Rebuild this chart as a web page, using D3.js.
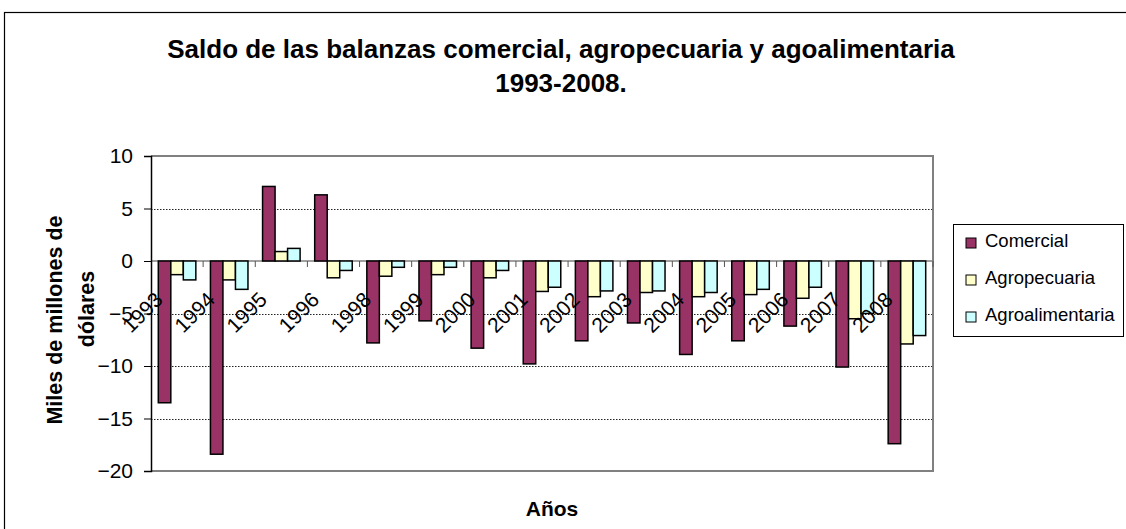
<!DOCTYPE html>
<html>
<head>
<meta charset="utf-8">
<script src="https://cdn.jsdelivr.net/npm/d3@7"></script>
<style>
  body { margin: 0; background: #fff; }
  svg { display: block; font-family: "Liberation Sans", Arial, sans-serif; }
</style>
</head>
<body>
<svg width="1126" height="529"></svg>
<script>
// data (miles de millones de dólares)
const years = ["1993", "1994", "1995", "1996", "1998", "1999", "2000", "2001",
  "2002", "2003", "2004", "2005", "2006", "2007", "2008"];
const comercial = [-13.5, -18.4, 7.1, 6.3, -7.8, -5.7, -8.3, -9.8, -7.6, -5.9, -8.9, -7.6, -6.2, -10.1, -17.4];
const agropecuaria = [-1.3, -1.8, 0.9, -1.6, -1.45, -1.3, -1.6, -2.9, -3.4, -3.0, -3.4, -3.2, -3.55, -5.5, -7.9];
const agroalimentaria = [-1.8, -2.7, 1.2, -0.9, -0.6, -0.6, -0.9, -2.5, -2.85, -2.85, -3.0, -2.7, -2.5, -5.0, -7.1];
const seriesNames = ["Comercial", "Agropecuaria", "Agroalimentaria"];
const colors = ["#993366", "#FFFFCC", "#CCFFFF"];
const yTicks = [10, 5, 0, -5, -10, -15, -20];

const series = [comercial, agropecuaria, agroalimentaria];
const rows = years.map((y, i) => ({ year: y, values: series.map((s) => s[i]) }));

const svg = d3.select("svg");

const plot = { left: 151, right: 933, top: 156, bottom: 471 };

// outer chart frame (runs off the page on right and bottom)
svg.append("rect")
  .attr("x", 4.5).attr("y", 12.5)
  .attr("width", 1200).attr("height", 600)
  .attr("fill", "none")
  .attr("stroke", "#000")
  .attr("stroke-width", 1.2);

const x0 = d3.scaleBand()
  .domain(years)
  .range([plot.left, plot.right])
  .paddingInner(0.28)
  .paddingOuter(0.14);

const x1 = d3.scaleBand()
  .domain(d3.range(3))
  .range([0, x0.bandwidth()]);

const y = d3.scaleLinear().domain([-20, 10]).range([plot.bottom, plot.top]);

// gridlines
svg.append("g")
  .selectAll("line")
  .data(yTicks.filter((t) => t !== 10 && t !== -20 && t !== 0))
  .enter()
  .append("line")
  .attr("x1", plot.left).attr("x2", plot.right)
  .attr("y1", (d) => Math.round(y(d)) + 0.5)
  .attr("y2", (d) => Math.round(y(d)) + 0.5)
  .attr("stroke", "#222")
  .attr("stroke-dasharray", "1.5,1.5");

// plot frame top / right / bottom (gray)
svg.append("path")
  .attr("d", `M${plot.left},${plot.top} H${plot.right} V${plot.bottom} H${plot.left}`)
  .attr("fill", "none")
  .attr("stroke", "#808080")
  .attr("stroke-width", 2);

// zero line
svg.append("line")
  .attr("x1", plot.left).attr("x2", plot.right)
  .attr("y1", y(0)).attr("y2", y(0))
  .attr("stroke", "#808080")
  .attr("stroke-width", 1.5);

// category tick marks on the zero line
const step = x0.step();
svg.append("g")
  .selectAll("line")
  .data(d3.range(1, years.length + 1))
  .enter()
  .append("line")
  .attr("x1", (i) => plot.left + i * step)
  .attr("x2", (i) => plot.left + i * step)
  .attr("y1", y(0))
  .attr("y2", y(0) + 6)
  .attr("stroke", "#555")
  .attr("stroke-width", 1);

// bars
const groups = svg.append("g")
  .selectAll("g")
  .data(rows)
  .enter()
  .append("g")
  .attr("transform", (d) => `translate(${x0(d.year)},0)`);

groups.selectAll("rect")
  .data((d) => d.values.map((v, k) => ({ v, k })))
  .enter()
  .append("rect")
  .attr("x", (d) => x1(d.k))
  .attr("width", x1.bandwidth())
  .attr("y", (d) => y(Math.max(0, d.v)))
  .attr("height", (d) => Math.abs(y(d.v) - y(0)))
  .attr("fill", (d) => colors[d.k])
  .attr("stroke", "#000")
  .attr("stroke-width", 1.5);

// y axis
const yAxis = svg.append("g")
  .attr("transform", `translate(${plot.left},0)`)
  .call(d3.axisLeft(y).tickValues(yTicks).tickSize(7).tickPadding(11).tickFormat(d3.format("d")));
yAxis.select(".domain").attr("stroke", "#000").attr("stroke-width", 1.5);
yAxis.selectAll(".tick line").attr("stroke", "#000");
yAxis.selectAll(".tick text")
  .attr("font-size", 21)
  .attr("font-family", "Liberation Sans, Arial, sans-serif")
  .attr("fill", "#000");

// category labels, rotated, drawn on top of the bars
svg.append("g")
  .selectAll("text")
  .data(years)
  .enter()
  .append("text")
  .attr("transform", (d) => `translate(${x0(d) + x0.bandwidth() / 2 - 13},301) rotate(-45)`)
  .attr("text-anchor", "end")
  .attr("font-size", 21)
  .text((d) => d);

// title
const title = svg.append("text")
  .attr("text-anchor", "middle")
  .attr("font-weight", "bold")
  .attr("font-size", 26);
title.append("tspan").attr("x", 561).attr("y", 58)
  .text("Saldo de las balanzas comercial, agropecuaria y agoalimentaria");
title.append("tspan").attr("x", 561).attr("y", 92).text("1993-2008.");

// axis titles
svg.append("text")
  .attr("x", 552).attr("y", 516)
  .attr("text-anchor", "middle")
  .attr("font-weight", "bold")
  .attr("font-size", 21)
  .text("Años");

const yTitle = svg.append("text")
  .attr("transform", "rotate(-90)")
  .attr("text-anchor", "middle")
  .attr("font-weight", "bold")
  .attr("font-size", 21.5);
yTitle.append("tspan").attr("x", -320).attr("y", 62).text("Miles de millones de");
yTitle.append("tspan").attr("x", -309).attr("y", 94).text("dólares");

// legend
const legend = svg.append("g");
legend.append("rect")
  .attr("x", 953.5).attr("y", 224.5)
  .attr("width", 170).attr("height", 112)
  .attr("fill", "#fff")
  .attr("stroke", "#000")
  .attr("stroke-width", 1);

const items = legend.selectAll("g.item")
  .data(seriesNames)
  .enter()
  .append("g")
  .attr("class", "item")
  .attr("transform", (d, i) => `translate(966,${247 + i * 37})`);

items.append("rect")
  .attr("x", 0).attr("y", -9)
  .attr("width", 10).attr("height", 10)
  .attr("fill", (d, i) => colors[i])
  .attr("stroke", "#000")
  .attr("stroke-width", 1);

items.append("text")
  .attr("x", 19).attr("y", 0)
  .attr("font-size", 18.5)
  .text((d) => d);
</script>
</body>
</html>
